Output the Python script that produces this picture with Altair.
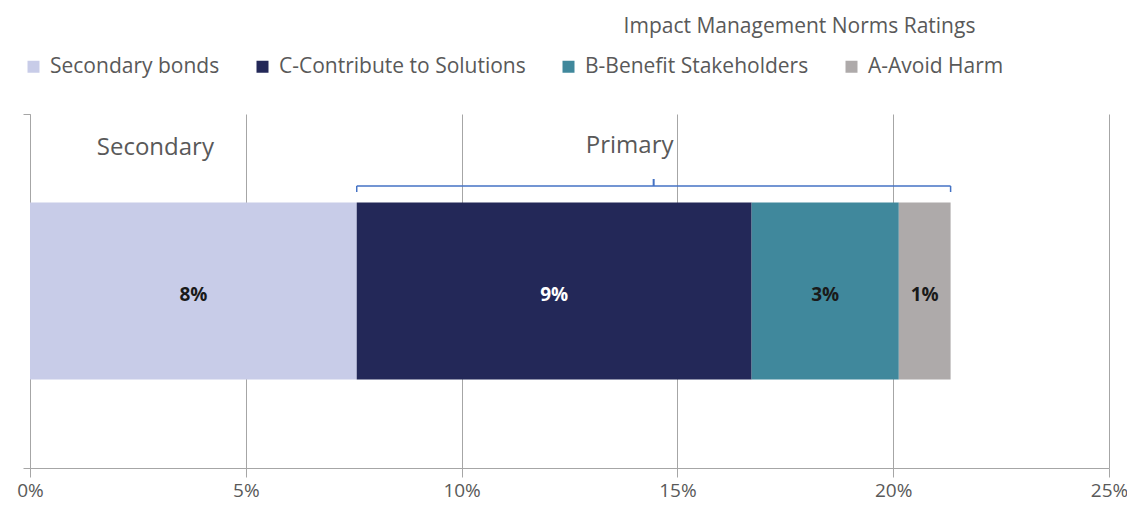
import altair as alt
import pandas as pd

categories = ["Secondary bonds", "C-Contribute to Solutions", "B-Benefit Stakeholders", "A-Avoid Harm"]
values = [0.0757, 0.0915, 0.0341, 0.0120]
groups = ["Secondary", "Primary", "Primary", "Primary"]
colors = ["#C8CCE8", "#232858", "#40889C", "#AEAAAA"]
label_colors = ["#1A1A1A", "#FFFFFF", "#1A1A1A", "#1A1A1A"]
tick_values = [0, 0.05, 0.10, 0.15, 0.20, 0.25]
x_domain = [0, 0.25]
row_name = "Ratings"
title_text = "Impact Management Norms Ratings"

FONT = "Open Sans"
TEXT = "#595959"
GRID = "#A6A6A6"
BRACKET = "#4472C4"

df = pd.DataFrame({
    "category": categories,
    "value": values,
    "group": groups,
    "order": list(range(len(categories))),
    "label_color": label_colors,
    "row": [row_name] * len(categories),
})

xscale = alt.Scale(domain=x_domain)
yscale = alt.Scale(paddingInner=0, paddingOuter=0)

base = alt.Chart(df).transform_window(
    end="sum(value)", sort=[alt.SortField("order")], frame=[None, 0]
).transform_calculate(
    start="datum.end - datum.value",
    mid="(datum.start + datum.end) / 2",
)

bars = base.mark_bar(height=alt.RelativeBandSize(band=0.5)).encode(
    x=alt.X("start:Q", scale=xscale, title=None,
            axis=alt.Axis(values=tick_values, format=".0%", grid=True, gridColor=GRID,
                          domainColor=GRID, tickColor=GRID, tickSize=9, labelFontSize=19,
                          labelColor=TEXT, labelPadding=4, labelFont=FONT, labelFlush=False)),
    x2="end:Q",
    y=alt.Y("row:N", title=None, scale=yscale,
            axis=alt.Axis(labels=False, tickBand="extent", tickSize=7, domainColor=GRID,
                          tickColor=GRID, grid=False)),
    color=alt.Color("category:N", scale=alt.Scale(domain=categories, range=colors),
                    legend=alt.Legend(title=None, orient="none", direction="horizontal",
                                      legendX=-7, legendY=-58, symbolType="square",
                                      symbolSize=144, symbolStrokeWidth=0, labelFontSize=21,
                                      labelColor=TEXT, labelFont=FONT, columnPadding=32,
                                      labelOffset=6, labelLimit=0)),
)

labels = base.mark_text(fontSize=19, fontWeight="bold", font=FONT, dy=4).encode(
    x=alt.X("mid:Q", scale=xscale, title=None),
    y=alt.Y("row:N", title=None, scale=yscale),
    text=alt.Text("value:Q", format=".0%"),
    color=alt.Color("label_color:N", scale=None),
)

grp = base.transform_aggregate(
    gstart="min(start)", gend="max(end)", groupby=["group"]
).transform_calculate(gmid="(datum.gstart + datum.gend) / 2")

sec_text = grp.transform_filter(alt.datum.group == "Secondary").mark_text(
    fontSize=24, font=FONT, color=TEXT, dx=-38).encode(
    x=alt.X("gmid:Q", scale=xscale, title=None), y=alt.value(34), text="group:N")

prim_text = grp.transform_filter(alt.datum.group == "Primary").mark_text(
    fontSize=24, font=FONT, color=TEXT, dx=-24).encode(
    x=alt.X("gmid:Q", scale=xscale, title=None), y=alt.value(32), text="group:N")

prim = grp.transform_filter(alt.datum.group == "Primary")
br_line = prim.mark_rule(color=BRACKET, strokeWidth=1.5).encode(
    x=alt.X("gstart:Q", scale=xscale, title=None), x2="gend:Q", y=alt.value(72))
br_left = prim.mark_rule(color=BRACKET, strokeWidth=1.5).encode(
    x=alt.X("gstart:Q", scale=xscale, title=None), y=alt.value(72), y2=alt.value(78))
br_right = prim.mark_rule(color=BRACKET, strokeWidth=1.5).encode(
    x=alt.X("gend:Q", scale=xscale, title=None), y=alt.value(72), y2=alt.value(78))
br_mid = prim.mark_rule(color=BRACKET, strokeWidth=2).encode(
    x=alt.X("gmid:Q", scale=xscale, title=None), y=alt.value(65), y2=alt.value(72))

chart = alt.layer(bars, labels, sec_text, prim_text, br_line, br_left, br_right, br_mid).properties(
    width=1079, height=354,
    title=alt.TitleParams(title_text, anchor="middle", frame="group", dx=230, offset=19,
                          fontSize=21, fontWeight="normal", color=TEXT, font=FONT),
    autosize=alt.AutoSizeParams(type="none"),
    padding={"left": 22, "top": 106, "right": 18, "bottom": 38},
).configure(font=FONT).configure_view(stroke=None)

chart.save("out.html", embed_options={"renderer": "svg", "actions": False})
